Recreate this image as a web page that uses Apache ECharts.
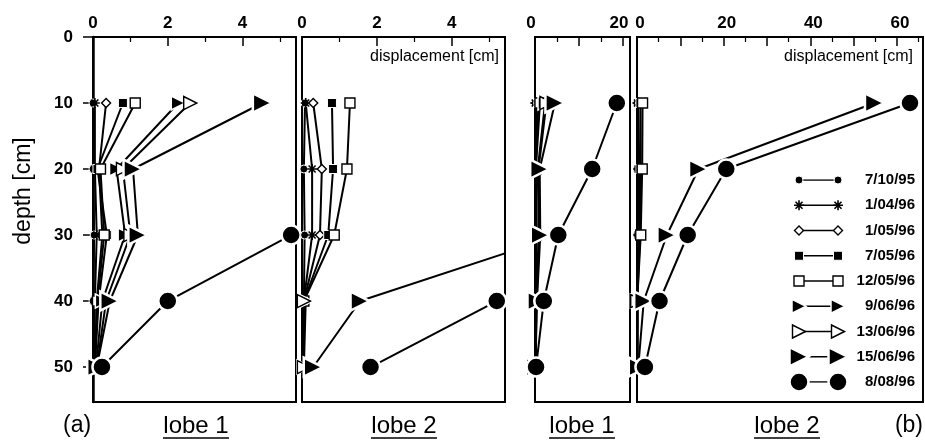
<!DOCTYPE html>
<html>
<head>
<meta charset="utf-8">
<script src="https://cdn.jsdelivr.net/npm/echarts@6/dist/echarts.min.js"></script>
<style>
  html, body { margin: 0; padding: 0; background: #fff; }
  #main { width: 925px; height: 440px; }
</style>
</head>
<body>
<div id="main"></div>
<script>
const FONT = '"Liberation Sans", Arial, Helvetica, sans-serif';

// depth of each reading [cm]
const depths = [10, 20, 30, 40, 50];
const dates = ['7/10/95', '1/04/96', '1/05/96', '7/05/96', '12/05/96',
               '9/06/96', '13/06/96', '15/06/96', '8/08/96'];

// lobe 1 displacement [cm], one array per survey date (depth 10..50)
const lobe1_071095 = [0, 0, 0.03, 0, 0];
const lobe1_010496 = [0.05, 0.05, 0.1, 0.05, 0.02];
const lobe1_010596 = [0.35, 0.16, 0.25, 0.1, 0.05];
const lobe1_070596 = [0.8, 0.12, 0.37, 0.15, 0.05];
const lobe1_120596 = [1.13, 0.2, 0.3, 0.12, 0.05];
const lobe1_090696 = [2.28, 0.63, 0.86, 0.25, 0.08];
const lobe1_130696 = [2.6, 0.8, 1.0, 0.35, 0.1];
const lobe1_150696 = [4.53, 1.07, 1.2, 0.45, 0.1];
const lobe1_080896 = [18.6, 13.0, 5.3, 2.0, 0.24];

// lobe 2 displacement [cm]
const lobe2_071095 = [0.08, 0.05, 0.07, 0.05, 0.05];
const lobe2_010496 = [0.1, 0.27, 0.27, 0.05, 0.05];
const lobe2_010596 = [0.3, 0.53, 0.48, 0.05, 0.05];
const lobe2_070596 = [0.8, 0.83, 0.7, 0.05, 0.05];
const lobe2_120596 = [1.28, 1.2, 0.86, 0.05, 0.05];
const lobe2_090696 = [null, null, null, 0.1, 0.05];
const lobe2_130696 = [null, null, null, 0.05, 0.05];
const lobe2_150696 = [54.8, 14.2, 6.9, 1.55, 0.3];
const lobe2_080896 = [63, 20.6, 11.7, 5.2, 1.83];

// tick values
const depthTicks = [0, 10, 20, 30, 40, 50];
const smallLabels = [0, 2, 4];
const smallMinor = [1, 3, 5];
const lobe1BigLabels = [0, 20];
const lobe1BigTicks = [0, 10, 20];
const lobe1BigMinor = [5, 15];
const lobe2BigLabels = [0, 20, 40, 60];
const lobe2BigTicks = [0, 10, 20, 30, 40, 50, 60];
const lobe2BigMinor = [5, 15, 25, 35, 45, 55, 65];

const lobe1 = [lobe1_071095, lobe1_010496, lobe1_010596, lobe1_070596, lobe1_120596,
               lobe1_090696, lobe1_130696, lobe1_150696, lobe1_080896];
const lobe2 = [lobe2_071095, lobe2_010496, lobe2_010596, lobe2_070596, lobe2_120596,
               lobe2_090696, lobe2_130696, lobe2_150696, lobe2_080896];
const panelValues = [lobe1, lobe2, lobe1, lobe2];

// panel frames: (a) lobe 1, (a) lobe 2, (b) lobe 1, (b) lobe 2
const panels = [
  {left: 93, width: 203, max: 5.43, labels: smallLabels, ticks: smallLabels, minor: smallMinor, pad: [0, 0, 0, 0]},
  {left: 302, width: 203, max: 5.42, labels: smallLabels, ticks: smallLabels, minor: smallMinor, pad: [0, 0, 0, 0]},
  {left: 535, width: 95, max: 21.6, labels: lobe1BigLabels, ticks: lobe1BigTicks, minor: lobe1BigMinor, pad: [0, 8, 0, 0]},
  {left: 637, width: 286, max: 66, labels: lobe2BigLabels, ticks: lobe2BigTicks, minor: lobe2BigMinor, pad: [0, 0, 0, 6]}
];
const TOP = 37, HEIGHT = 365, YMAX = 55.3;

const asterisk = 'path://M-5,-0.8H5V0.8H-5Z M-0.8,-5H0.8V5H-0.8Z ' +
  'M-2.93,-4.07L4.07,2.93L2.93,4.07L-4.07,-2.93Z M-4.07,2.93L2.93,-4.07L4.07,-2.93L-2.93,4.07Z';

// marker per survey date
const marks = [
  {symbol: 'circle', size: 8, gap: 1},
  {symbol: asterisk, size: 10, gap: 0},
  {symbol: 'diamond', size: 9, hollow: true},
  {symbol: 'rect', size: 9, gap: 1},
  {symbol: 'rect', size: 10, hollow: true},
  {symbol: 'triangle', size: 14, rotate: -90, gap: 1.5},
  {symbol: 'triangle', size: 13, rotate: -90, hollow: true},
  {symbol: 'triangle', size: 19, rotate: -90, gap: 2.5},
  {symbol: 'circle', size: 19, gap: 2.5}
];

function markStyle(m) {
  return m.hollow
    ? {color: '#fff', borderColor: '#000', borderWidth: 1.4}
    : {color: '#000', borderColor: '#fff', borderWidth: m.gap};
}

let grids = [], xAxes = [], yAxes = [], series = [];

panels.forEach(function (p, pi) {
  grids.push({
    left: p.left, top: TOP, width: p.width, height: HEIGHT,
    show: true, borderColor: '#000', borderWidth: 2, outerBoundsMode: 'none'
  });
  // major ticks + labels
  xAxes.push({
    gridIndex: pi, type: 'value', position: 'top', min: 0, max: p.max,
    axisLine: {show: true, lineStyle: {color: '#000', width: 2}},
    axisTick: {show: true, inside: true, length: 9, customValues: p.ticks,
               lineStyle: {color: '#000', width: 1.5}},
    axisLabel: {show: true, margin: 5, color: '#000', fontSize: 17, fontWeight: 'bold',
                fontFamily: FONT, customValues: p.labels, padding: p.pad},
    splitLine: {show: false}
  });
  // minor ticks
  xAxes.push({
    gridIndex: pi, type: 'value', position: 'top', min: 0, max: p.max,
    axisLine: {show: false},
    axisTick: {show: true, inside: true, length: 5, customValues: p.minor,
               lineStyle: {color: '#000', width: 1.2}},
    axisLabel: {show: false},
    splitLine: {show: false}
  });
  yAxes.push({
    gridIndex: pi, type: 'value', inverse: true, min: 0, max: YMAX,
    axisLine: {show: pi === 0, lineStyle: {color: '#000', width: 2.5}},
    axisTick: {show: pi === 0, length: 10, customValues: depthTicks,
               lineStyle: {color: '#000', width: 1.5}},
    axisLabel: {show: pi === 0, margin: 20, color: '#000', fontSize: 17, fontWeight: 'bold',
                fontFamily: FONT, customValues: depthTicks},
    splitLine: {show: false}
  });

  const vals = panelValues[pi];
  dates.forEach(function (d, di) {
    const m = marks[di];
    series.push({
      type: 'line', name: d, xAxisIndex: pi * 2, yAxisIndex: pi,
      data: depths.map(function (dep, k) { return [vals[di][k], dep]; })
                  .filter(function (pt) { return pt[0] != null; }),
      symbol: m.symbol, symbolSize: m.size, symbolRotate: m.rotate || 0,
      itemStyle: markStyle(m),
      lineStyle: {color: '#000', width: 2},
      clip: true, silent: true, animation: false
    });
  });
});

// legend drawn as short two-point lines in its own small grid
grids.push({left: 799, top: 180, width: 39, height: 202, show: false, outerBoundsMode: 'none'});
xAxes.push({gridIndex: 4, type: 'value', min: 0, max: 1, show: false});
yAxes.push({
  gridIndex: 4, type: 'category', data: dates, inverse: true, boundaryGap: false,
  position: 'right',
  axisLine: {show: false}, axisTick: {show: false}, splitLine: {show: false},
  axisLabel: {margin: 77, align: 'right', color: '#000', fontSize: 15, fontWeight: 'bold',
              fontFamily: FONT}
});
dates.forEach(function (d, di) {
  const m = marks[di];
  series.push({
    type: 'line', xAxisIndex: 8, yAxisIndex: 4,
    data: [[0, di], [1, di]],
    symbol: m.symbol, symbolSize: m.size, symbolRotate: m.rotate || 0,
    itemStyle: markStyle(m),
    lineStyle: {color: '#000', width: 1.5},
    clip: false, silent: true, animation: false
  });
});

function label(text, x, y, size, align, extra) {
  return Object.assign({
    type: 'text', x: x, y: y, silent: true,
    style: {text: text, font: size + 'px ' + FONT, fill: '#000',
            textAlign: align, align: align, textVerticalAlign: 'middle', verticalAlign: 'middle'}
  }, extra || {});
}
function underline(cx, y, half) {
  return {type: 'line', silent: true, shape: {x1: cx - half, y1: y, x2: cx + half, y2: y},
          style: {stroke: '#000', lineWidth: 1.6}};
}

const graphics = [
  label('depth [cm]', 24, 191, 23, 'center', {rotation: Math.PI / 2}),
  label('displacement [cm]', 499, 57, 16, 'right'),
  label('displacement [cm]', 913, 57, 16, 'right'),
  label('(a)', 63, 426, 23, 'left'),
  label('(b)', 923, 426, 23, 'right'),
  label('lobe 1', 196, 426, 24, 'center'), underline(196, 438, 33),
  label('lobe 2', 404, 426, 24, 'center'), underline(404, 438, 33),
  label('lobe 1', 582, 426, 24, 'center'), underline(582, 438, 33),
  label('lobe 2', 787, 426, 24, 'center'), underline(787, 438, 33)
];

const chart = echarts.init(document.getElementById('main'));
chart.setOption({
  backgroundColor: '#fff',
  animation: false,
  grid: grids,
  xAxis: xAxes,
  yAxis: yAxes,
  series: series,
  graphic: graphics
});
</script>
</body>
</html>
